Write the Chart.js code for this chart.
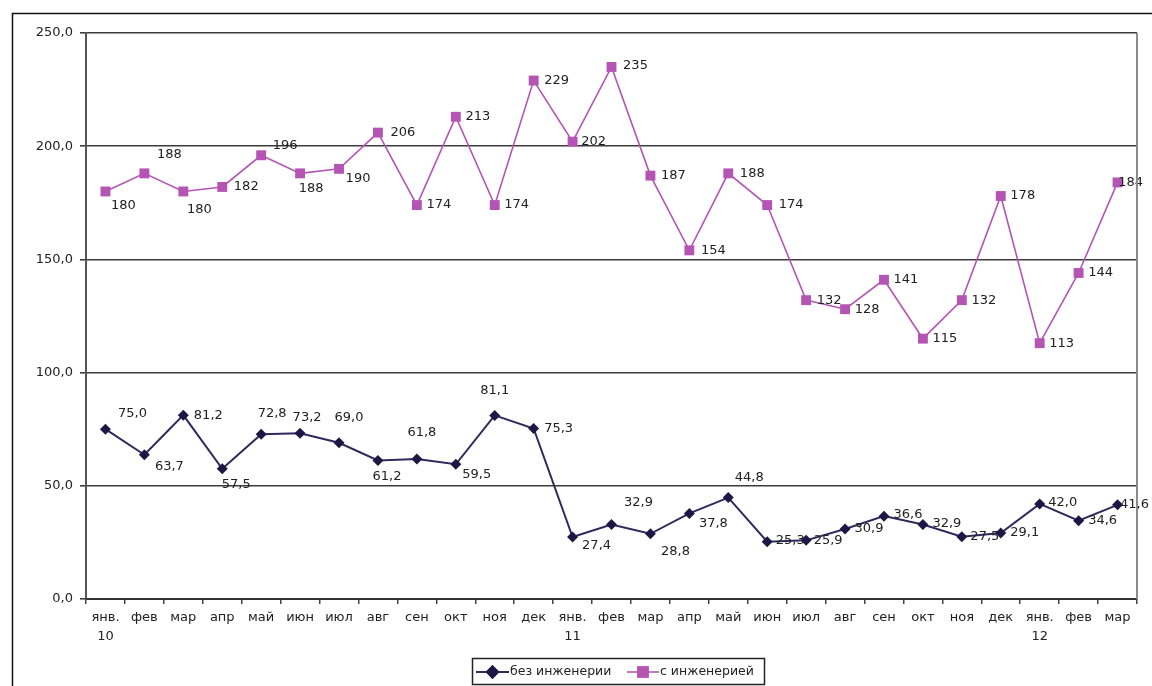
<!DOCTYPE html>
<html>
<head>
<meta charset="utf-8">
<script src="https://cdn.jsdelivr.net/npm/chart.js@4/dist/chart.umd.min.js"></script>
<style>
  html, body { margin: 0; padding: 0; background: #fff; }
  #wrap { width: 1152px; height: 686px; }
</style>
</head>
<body>
<div id="wrap"><canvas id="c" width="1152" height="686"></canvas></div>
<script>
// Months, Jan 2010 – Mar 2012
const months = [
  ['янв.', '10'], 'фев', 'мар', 'апр', 'май', 'июн', 'июл', 'авг', 'сен', 'окт', 'ноя', 'дек',
  ['янв.', '11'], 'фев', 'мар', 'апр', 'май', 'июн', 'июл', 'авг', 'сен', 'окт', 'ноя', 'дек',
  ['янв.', '12'], 'фев', 'мар'
];

const seriesNames = ['без инженерии', 'с инженерией'];

const withoutEngineering = [
  75.0, 63.7, 81.2, 57.5, 72.8, 73.2, 69.0, 61.2, 61.8, 59.5, 81.1, 75.3,
  27.4, 32.9, 28.8, 37.8, 44.8, 25.3, 25.9, 30.9, 36.6, 32.9, 27.5, 29.1,
  42.0, 34.6, 41.6
];

const withEngineering = [
  180, 188, 180, 182, 196, 188, 190, 206, 174, 213, 174, 229,
  202, 235, 187, 154, 188, 174, 132, 128, 141, 115, 132, 178,
  113, 144, 184
];

const yMin = 0, yMax = 250, yStep = 50;

// Value label placement: pixel offset of each label's centre from its marker
const labelShiftA = [
  [27, -16], [25, 12], [25, 0], [14, 16], [11, -21], [7, -16], [10, -25], [9, 16], [5, -26], [21, 10], [0, -25], [25, 0],
  [24, 9], [27, -22], [25, 18], [24, 10], [21, -20], [23, -1], [22, 0], [24, 0], [24, -2], [24, -1], [23, 0], [24, 0],
  [23, -1], [24, 0], [17, 0]
];
const labelShiftB = [
  [18, 14], [25, -19], [16, 18], [24, 0], [24, -10], [11, 15], [19, 10], [25, 0], [22, 0], [22, 0], [22, 0], [23, 0],
  [21, 0], [24, -1], [23, 0], [24, 0], [24, 0], [24, 0], [23, 0], [22, 0], [22, 0], [22, 0], [22, 0], [22, 0],
  [22, 0], [22, 0], [13, 0]
];

const FONT = 'DejaVu Sans';
const TEXT = '#222222';
const DARK = '#2f2a5e';
const DARK_MARK = '#1c1845';
const PINK = '#b455b4';

const fmtOne = v => v.toFixed(1).replace('.', ',');

// Value labels next to each marker
const valueLabels = {
  id: 'valueLabels',
  afterDatasetsDraw(chart) {
    const ctx = chart.ctx;
    ctx.save();
    ctx.font = '13px "' + FONT + '"';
    ctx.fillStyle = TEXT;
    ctx.textAlign = 'center';
    ctx.textBaseline = 'middle';
    chart.data.datasets.forEach((ds, di) => {
      const meta = chart.getDatasetMeta(di);
      const shifts = ds.labelShift;
      meta.data.forEach((pt, i) => {
        const v = ds.data[i];
        const txt = ds.decimals ? fmtOne(v) : String(Math.round(v));
        const [dx, dy] = shifts[i];
        ctx.fillText(txt, pt.x + dx, pt.y + dy);
      });
    });
    ctx.restore();
  }
};

// Outer frame, right edge of the plot and the boxed legend
const frameAndLegend = {
  id: 'frameAndLegend',
  beforeDraw(chart) {
    const ctx = chart.ctx;
    ctx.save();
    ctx.fillStyle = '#ffffff';
    ctx.fillRect(0, 0, chart.width, chart.height);
    ctx.restore();
  },
  afterDraw(chart) {
    const ctx = chart.ctx;
    const a = chart.chartArea;
    ctx.save();
    // plot right edge
    ctx.strokeStyle = '#8c8c8c';
    ctx.lineWidth = 2;
    ctx.beginPath();
    ctx.moveTo(a.right, a.top);
    ctx.lineTo(a.right, a.bottom);
    ctx.stroke();
    // outer frame
    ctx.strokeStyle = '#111';
    ctx.lineWidth = 1.5;
    ctx.beginPath();
    ctx.moveTo(12.5, chart.height);
    ctx.lineTo(12.5, 13.5);
    ctx.lineTo(chart.width, 13.5);
    ctx.stroke();

    // legend box
    const bx = 472, by = 658, bw = 292, bh = 26;
    ctx.fillStyle = '#fff';
    ctx.fillRect(bx, by, bw, bh);
    ctx.strokeStyle = '#222';
    ctx.lineWidth = 1.5;
    ctx.strokeRect(bx + 0.5, by + 0.5, bw, bh);
    const cy = by + bh / 2 + 1;
    ctx.font = '12.5px "' + FONT + '"';
    ctx.textBaseline = 'middle';
    ctx.textAlign = 'left';
    const items = [
      { x0: 476, x1: 509, tx: 510, name: chart.data.datasets[1].label, ds: chart.data.datasets[1] },
      { x0: 627, x1: 659, tx: 660, name: chart.data.datasets[0].label, ds: chart.data.datasets[0] }
    ];
    items.forEach(it => {
      ctx.strokeStyle = it.ds.borderColor;
      ctx.lineWidth = it.ds.borderWidth;
      ctx.beginPath();
      ctx.moveTo(it.x0, cy);
      ctx.lineTo(it.x1, cy);
      ctx.stroke();
      Chart.helpers.drawPoint(ctx, {
        pointStyle: it.ds.pointStyle,
        radius: it.ds.pointRadius,
        rotation: 0,
        borderWidth: 1
      }, (it.x0 + it.x1) / 2, cy);
      ctx.fillStyle = it.ds.pointBackgroundColor;
      ctx.strokeStyle = it.ds.pointBorderColor;
      ctx.beginPath();
      Chart.helpers.drawPoint(ctx, {
        pointStyle: it.ds.pointStyle,
        radius: it.ds.pointRadius,
        rotation: 0,
        borderWidth: 1
      }, (it.x0 + it.x1) / 2, cy);
      ctx.fillStyle = TEXT;
      ctx.fillText(it.name, it.tx, cy);
    });
    ctx.restore();
  }
};

new Chart(document.getElementById('c'), {
  type: 'line',
  data: {
    labels: months,
    datasets: [
      {
        label: seriesNames[1],
        data: withEngineering,
        borderColor: PINK,
        borderWidth: 1.6,
        pointStyle: 'rect',
        pointRadius: 7,
        pointBackgroundColor: PINK,
        pointBorderColor: PINK,
        pointBorderWidth: 0,
        tension: 0,
        decimals: false,
        labelShift: labelShiftB
      },
      {
        label: seriesNames[0],
        data: withoutEngineering,
        borderColor: DARK,
        borderWidth: 2,
        pointStyle: 'rectRot',
        pointRadius: 5.5,
        pointBackgroundColor: DARK_MARK,
        pointBorderColor: DARK_MARK,
        pointBorderWidth: 0,
        tension: 0,
        decimals: true,
        labelShift: labelShiftA
      }
    ]
  },
  options: {
    responsive: false,
    animation: false,
    devicePixelRatio: 1,
    layout: { padding: { top: 33, right: 15, left: 0, bottom: 37 } },
    plugins: {
      legend: { display: false },
      tooltip: { enabled: false }
    },
    scales: {
      x: {
        offset: true,
        afterFit(scale) { scale.height = 50; },
        grid: {
          display: true,
          offset: true,
          drawOnChartArea: false,
          drawTicks: true,
          tickLength: 5,
          color: '#444',
          lineWidth: 1.5
        },
        border: { display: true, color: '#333', width: 2 },
        ticks: {
          autoSkip: false,
          maxRotation: 0,
          minRotation: 0,
          padding: 5,
          color: TEXT,
          font: { family: FONT, size: 13, lineHeight: 1.4 }
        }
      },
      y: {
        min: yMin,
        max: yMax,
        afterFit(scale) { scale.width = 86; },
        grid: {
          color: '#3c3c3c',
          lineWidth: 1.6,
          drawTicks: true,
          tickLength: 6
        },
        border: { display: true, color: '#555', width: 2 },
        ticks: {
          stepSize: yStep,
          padding: 7,
          color: TEXT,
          font: { family: FONT, size: 13 },
          callback: v => fmtOne(v)
        }
      }
    }
  },
  plugins: [frameAndLegend, valueLabels]
});
</script>
</body>
</html>
